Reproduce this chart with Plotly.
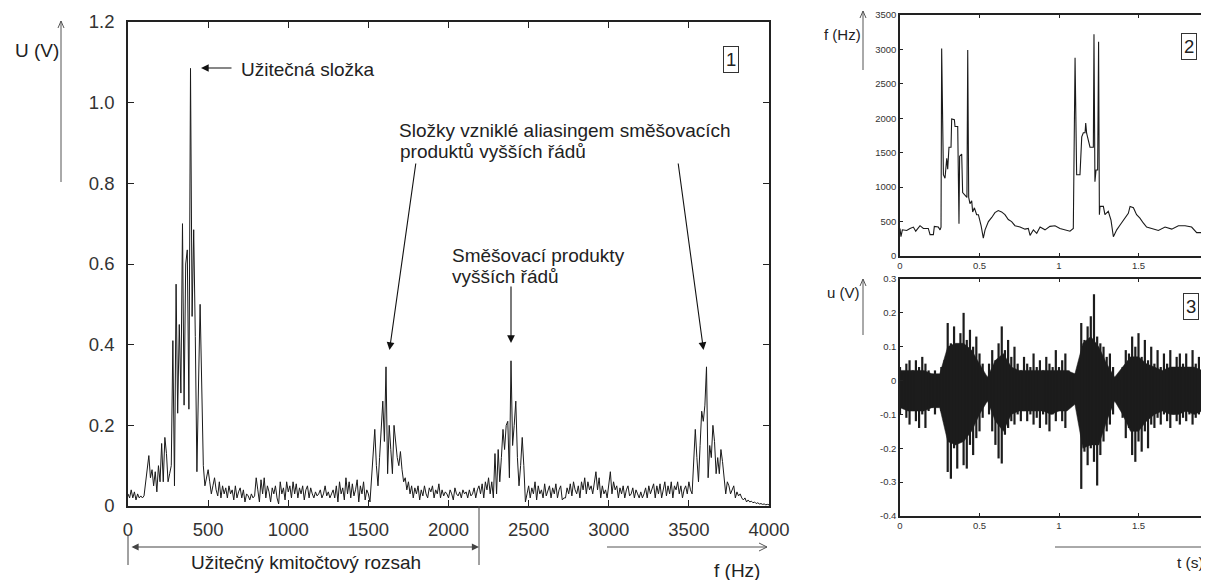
import plotly.graph_objects as go

# The page body adds an 8 px margin, so the figure is drawn 8 px in from the
# window's top-left corner; screen pixel positions are mapped accordingly.
OFF = 8
W, H = 1209 - OFF, 580 - OFF
def px(x): return (x - OFF) / W
def py(y): return 1 - (y - OFF) / H

# ---------------- data ----------------
# Panel 1: amplitude spectrum, 10 Hz grid 0..4000 Hz
freq_step = 10
spectrum_u = [
    0.03, 0.02, 0.04, 0.02, 0.035, 0.015, 0.03, 0.02, 0.025, 0.02,          # 0
    0.025, 0.06, 0.08, 0.125, 0.07, 0.09, 0.05, 0.085, 0.035, 0.1,          # 100
    0.06, 0.155, 0.06, 0.17, 0.13, 0.06, 0.08, 0.1, 0.41, 0.05,             # 200
    0.55, 0.23, 0.45, 0.28, 0.70, 0.25, 0.60, 0.635, 0.24, 1.085,           # 300
    0.47, 0.685, 0.42, 0.085, 0.3, 0.50, 0.3, 0.1, 0.05, 0.07,              # 400
    0.09, 0.06, 0.03, 0.05, 0.07, 0.04, 0.025, 0.06, 0.02, 0.05,            # 500
    0.03, 0.045, 0.02, 0.05, 0.03, 0.04, 0.015, 0.05, 0.02, 0.035,          # 600
    0.045, 0.02, 0.04, 0.01, 0.03, 0.025, 0.015, 0.03, 0.02, 0.025,         # 700
    0.07, 0.04, 0.01, 0.065, 0.03, 0.07, 0.02, 0.05, 0.035, 0.01,           # 800
    0.045, 0.03, 0.05, 0.02, 0.005, 0.06, 0.03, 0.045, 0.015, 0.06,         # 900
    0.035, 0.05, 0.02, 0.06, 0.03, 0.055, 0.02, 0.045, 0.03, 0.05,          # 1000
    0.015, 0.04, 0.05, 0.02, 0.045, 0.03, 0.02, 0.035, 0.025, 0.03,         # 1100
    0.04, 0.02, 0.03, 0.05, 0.025, 0.035, 0.02, 0.03, 0.04, 0.02,           # 1200
    0.05, 0.01, 0.06, 0.03, 0.045, 0.015, 0.07, 0.03, 0.06, 0.02,           # 1300
    0.055, 0.025, 0.04, 0.065, 0.01, 0.05, 0.03, 0.06, 0.015, 0.04,         # 1400
    0.03, 0.01, 0.07, 0.13, 0.19, 0.1, 0.05, 0.12, 0.2, 0.26,               # 1500
    0.16, 0.345, 0.08, 0.2, 0.14, 0.08, 0.2, 0.15, 0.12, 0.1,               # 1600
    0.135, 0.09, 0.06, 0.07, 0.04, 0.06, 0.03, 0.05, 0.02, 0.045,           # 1700
    0.03, 0.05, 0.015, 0.04, 0.025, 0.05, 0.03, 0.02, 0.045, 0.035,         # 1800
    0.05, 0.02, 0.04, 0.03, 0.055, 0.02, 0.04, 0.025, 0.035, 0.03,          # 1900
    0.02, 0.04, 0.03, 0.015, 0.045, 0.03, 0.025, 0.035, 0.02, 0.04,         # 2000
    0.03, 0.035, 0.02, 0.04, 0.025, 0.03, 0.045, 0.02, 0.04, 0.05,          # 2100
    0.03, 0.055, 0.02, 0.06, 0.04, 0.07, 0.03, 0.06, 0.02, 0.13,            # 2200
    0.03, 0.14, 0.06, 0.12, 0.19, 0.14, 0.2, 0.21, 0.07, 0.36,              # 2300
    0.15, 0.2, 0.26, 0.12, 0.05, 0.1, 0.17, 0.1, 0.01, 0.03,                # 2400
    0.05, 0.02, 0.045, 0.03, 0.06, 0.015, 0.05, 0.03, 0.04, 0.02,           # 2500
    0.055, 0.025, 0.04, 0.05, 0.02, 0.045, 0.03, 0.055, 0.02, 0.04,         # 2600
    0.05, 0.015, 0.02, 0.02, 0.045, 0.03, 0.055, 0.025, 0.06, 0.04,         # 2700
    0.03, 0.05, 0.02, 0.06, 0.04, 0.07, 0.03, 0.06, 0.04, 0.05,             # 2800
    0.03, 0.065, 0.085, 0.04, 0.07, 0.02, 0.05, 0.03, 0.04, 0.02,           # 2900
    0.05, 0.085, 0.03, 0.06, 0.04, 0.05, 0.02, 0.045, 0.03, 0.05,           # 3000
    0.02, 0.04, 0.05, 0.025, 0.03, 0.045, 0.02, 0.04, 0.03, 0.02,           # 3100
    0.035, 0.02, 0.03, 0.045, 0.02, 0.05, 0.03, 0.04, 0.055, 0.02,          # 3200
    0.05, 0.03, 0.055, 0.02, 0.045, 0.06, 0.025, 0.05, 0.03, 0.06,          # 3300
    0.02, 0.05, 0.04, 0.06, 0.03, 0.05, 0.02, 0.04, 0.05, 0.03,             # 3400
    0.06, 0.04, 0.03, 0.115, 0.19, 0.12, 0.06, 0.15, 0.235, 0.21,           # 3500
    0.25, 0.345, 0.07, 0.15, 0.12, 0.2, 0.16, 0.08, 0.12, 0.08,             # 3600
    0.14, 0.11, 0.07, 0.03, 0.06, 0.05, 0.03, 0.04, 0.05, 0.02,             # 3700
    0.035, 0.025, 0.03, 0.02, 0.015, 0.02, 0.01, 0.015, 0.01, 0.012,        # 3800
    0.008, 0.01, 0.006, 0.008, 0.005, 0.006, 0.004, 0.005, 0.003, 0.004,    # 3900
    0.003,                                                                  # 4000
]
spectrum_f = [i * freq_step for i in range(len(spectrum_u))]

# Panel 2: instantaneous frequency vs time
track_t = [0.000, 0.006, 0.015, 0.042, 0.063, 0.084, 0.099, 0.126, 0.147, 0.178,
           0.189, 0.210, 0.216, 0.241, 0.252, 0.258, 0.262, 0.273, 0.283, 0.294,
           0.300, 0.308, 0.321, 0.325, 0.342, 0.346, 0.363, 0.367, 0.371, 0.375,
           0.388, 0.394, 0.413, 0.421, 0.426, 0.432, 0.440, 0.451, 0.457, 0.468,
           0.482, 0.493, 0.510, 0.524, 0.535, 0.556, 0.577, 0.597, 0.618, 0.639,
           0.660, 0.681, 0.702, 0.723, 0.755, 0.786, 0.807, 0.818, 0.839, 0.860,
           0.881, 0.912, 0.943, 0.975, 1.006, 1.038, 1.069, 1.090, 1.101, 1.111,
           1.132, 1.143, 1.153, 1.164, 1.168, 1.174, 1.195, 1.216, 1.220, 1.226,
           1.233, 1.243, 1.249, 1.254, 1.258, 1.279, 1.289, 1.310, 1.327, 1.342,
           1.363, 1.384, 1.405, 1.415, 1.436, 1.447, 1.468, 1.488, 1.509, 1.530,
           1.551, 1.583, 1.625, 1.667, 1.709, 1.751, 1.793, 1.834, 1.866, 1.898,
           1.919, 1.940]
track_f = [400, 280, 380, 370, 400, 420, 360, 440, 400, 400,
           310, 310, 430, 420, 380, 420, 3015, 1180, 1130, 1420,
           1260, 1580, 1580, 1990, 1980, 1880, 1880, 1220, 470, 1450,
           1480, 920, 870, 850, 2990, 850, 760, 800, 640, 700,
           600, 600, 440, 260, 380, 500, 560, 630, 660, 640,
           600, 530, 500, 440, 420, 390, 400, 300, 380, 330,
           420, 380, 430, 440, 400, 380, 360, 400, 2880, 1180,
           1180, 1730, 1790, 1790, 1930, 1780, 1580, 1580, 3220, 1080,
           1250, 1250, 3110, 600, 720, 720, 600, 650, 520, 280,
           380, 450, 520, 560, 620, 720, 700, 600, 550, 480,
           420, 400, 370, 420, 390, 440, 440, 420, 340, 340,
           410, 350]

# Panel 3: waveform — extreme values every 0.02 s (spikes) ...
wave_step = 0.02
wave_upper = [0.04, 0.02, 0.05, 0.06, 0.03, 0.06, 0.04, 0.07, 0.05, 0.03,
              0.02, 0.03, 0.01, 0.04, 0.06, 0.17, 0.11, 0.16, 0.10, 0.14,
              0.20, 0.12, 0.15, 0.10, 0.13, 0.08, 0.05, 0.00, 0.05, 0.09,
              0.06, 0.11, 0.16, 0.09, 0.12, 0.07, 0.10, 0.05, 0.03, 0.07,
              0.05, 0.04, 0.08, 0.04, 0.06, 0.03, 0.07, 0.05, 0.04, 0.09,
              0.04, 0.06, 0.08, 0.03, 0.01, 0.02, 0.03, 0.17, 0.12, 0.16,
              0.19, 0.255, 0.13, 0.11, 0.10, 0.07, 0.08, 0.04, 0.01, 0.00,
              0.04, 0.09, 0.08, 0.13, 0.10, 0.14, 0.07, 0.12, 0.06, 0.10,
              0.05, 0.09, 0.04, 0.08, 0.05, 0.09, 0.04, 0.07, 0.08, 0.05,
              0.08, 0.04, 0.09, 0.05, 0.07, 0.08, 0.05, 0.04]
wave_lower = [-0.10, -0.08, -0.11, -0.13, -0.09, -0.12, -0.14, -0.10, -0.14, -0.09,
              -0.08, -0.10, -0.07, -0.09, -0.12, -0.27, -0.29, -0.20, -0.26, -0.18,
              -0.25, -0.26, -0.19, -0.22, -0.17, -0.15, -0.11, -0.06, -0.10, -0.15,
              -0.19, -0.23, -0.245, -0.16, -0.14, -0.12, -0.13, -0.10, -0.12, -0.09,
              -0.12, -0.10, -0.13, -0.11, -0.14, -0.10, -0.13, -0.15, -0.10, -0.12,
              -0.09, -0.12, -0.14, -0.08, -0.07, -0.06, -0.08, -0.32, -0.21, -0.25,
              -0.20, -0.24, -0.31, -0.22, -0.18, -0.15, -0.13, -0.10, -0.06, -0.07,
              -0.11, -0.17, -0.14, -0.22, -0.24, -0.18, -0.21, -0.15, -0.20, -0.13,
              -0.14, -0.11, -0.13, -0.10, -0.12, -0.14, -0.10, -0.12, -0.13, -0.11,
              -0.12, -0.10, -0.13, -0.11, -0.10, -0.12, -0.11, -0.09]
# ... and the solid dense core every 0.05 s
core_step = 0.05
core_upper = [0.03, 0.03, 0.03, 0.03, 0.02, 0.02, 0.10, 0.11, 0.11, 0.09,
              0.05, 0.01, 0.06, 0.08, 0.04, 0.03, 0.03, 0.03, 0.03, 0.03,
              0.03, 0.03, 0.02, 0.11, 0.13, 0.10, 0.05, 0.01, 0.04, 0.07,
              0.07, 0.05, 0.04, 0.03, 0.04, 0.04, 0.04, 0.04, 0.03, 0.03]
core_lower = [-0.08, -0.09, -0.09, -0.09, -0.08, -0.08, -0.18, -0.19, -0.18, -0.15,
              -0.10, -0.06, -0.12, -0.15, -0.10, -0.09, -0.09, -0.09, -0.09, -0.10,
              -0.09, -0.09, -0.07, -0.20, -0.19, -0.19, -0.12, -0.06, -0.10, -0.15,
              -0.15, -0.12, -0.10, -0.09, -0.10, -0.10, -0.09, -0.10, -0.09, -0.09]

# tick labels
p1_xticks = [0, 500, 1000, 1500, 2000, 2500, 3000, 3500, 4000]
p1_yticks = [0, 0.2, 0.4, 0.6, 0.8, 1.0, 1.2]
p1_ylabels = ["0", "0.2", "0.4", "0.6", "0.8", "1.0", "1.2"]
p2_yticks = [0, 500, 1000, 1500, 2000, 2500, 3000, 3500]
p3_yticks = [-0.4, -0.3, -0.2, -0.1, 0, 0.1, 0.2, 0.3]
p3_ylabels = ["-0.4", "-0.3", "-0.2", "-0.1", "0", "0.1", "0.2", "0.3"]
t_ticks = [0, 0.5, 1, 1.5]
t_labels = ["0", "0.5", "1", "1.5"]

# waveform geometry: vertical spikes (gapped segments) + filled core polygon
spike_t, spike_u = [], []
for i, (u, l) in enumerate(zip(wave_upper, wave_lower)):
    spike_t += [i * wave_step, i * wave_step, None]
    spike_u += [l, u, None]
core_t = [i * core_step for i in range(len(core_upper))]
poly_t = core_t + core_t[::-1]
poly_u = core_upper + core_lower[::-1]

# ---------------- figure ----------------
FONT = "Liberation Sans, Arial, Helvetica, sans-serif"
TXT = "#222222"
AX = "#222222"
INK = "#1c1c1c"

fig = go.Figure()
fig.add_trace(go.Scatter(x=spectrum_f, y=spectrum_u, mode="lines",
                         line=dict(color="#1a1a1a", width=1), xaxis="x", yaxis="y",
                         showlegend=False, hoverinfo="skip"))
fig.add_trace(go.Scatter(x=track_t, y=track_f, mode="lines",
                         line=dict(color="#1a1a1a", width=1.1), xaxis="x2", yaxis="y2",
                         showlegend=False, hoverinfo="skip"))
fig.add_trace(go.Scatter(x=poly_t, y=poly_u, mode="lines", fill="toself",
                         fillcolor=INK, line=dict(color=INK, width=0.5),
                         xaxis="x3", yaxis="y3", showlegend=False, hoverinfo="skip"))
fig.add_trace(go.Scatter(x=spike_t, y=spike_u, mode="lines", connectgaps=False,
                         line=dict(color=INK, width=2.2),
                         xaxis="x3", yaxis="y3", showlegend=False, hoverinfo="skip"))

def axis_common(size, tl):
    return dict(showline=True, linecolor=AX, linewidth=1.5, mirror="ticks",
                ticks="inside", ticklen=tl, tickwidth=1, tickcolor=AX,
                showgrid=False, zeroline=False, fixedrange=True, automargin=False,
                tickfont=dict(family=FONT, size=size, color="#333333"))

small_r = (1208 - 900) / 159.0

fig.update_layout(
    width=W, height=H, autosize=False,
    margin=dict(l=0, r=0, t=0, b=0, pad=0, autoexpand=False),
    paper_bgcolor="white", plot_bgcolor="white",
    showlegend=False,
    xaxis=dict(domain=[px(128), px(769)], range=[0, 4000], anchor="y",
               tickvals=p1_xticks, ticklabelstandoff=6, **axis_common(18.5, 6)),
    yaxis=dict(domain=[py(506), py(22)], range=[0, 1.2], anchor="x",
               tickvals=p1_yticks, ticktext=p1_ylabels, ticklabelstandoff=8,
               **axis_common(18.5, 6)),
    xaxis2=dict(domain=[px(900), px(1208)], range=[0, small_r], anchor="y2",
                tickvals=t_ticks, ticktext=t_labels, ticklabelstandoff=0,
                **axis_common(9.5, 3)),
    yaxis2=dict(domain=[py(256), py(15)], range=[0, 3500], anchor="x2",
                tickvals=p2_yticks, ticklabelstandoff=0, **axis_common(9.5, 3)),
    xaxis3=dict(domain=[px(900), px(1208)], range=[0, small_r], anchor="y3",
                tickvals=t_ticks, ticktext=t_labels, ticklabelstandoff=0,
                **axis_common(9.5, 3)),
    yaxis3=dict(domain=[py(516), py(279)], range=[-0.4, 0.3], anchor="x3",
                tickvals=p3_yticks, ticktext=p3_ylabels, ticklabelstandoff=0,
                **axis_common(9.5, 3)),
)

ann = []
def text(x, y, s, size=19, anchor="left", border=False):
    d = dict(x=px(x), y=py(y), xref="paper", yref="paper", text=s, showarrow=False,
             xanchor=anchor, yanchor="middle",
             font=dict(family=FONT, size=size, color=TXT))
    if border:
        d.update(bordercolor="#333333", borderwidth=1, borderpad=2, bgcolor="white")
    ann.append(d)

def arrow(tx, ty, hx, hy, color="#111111", head=2, size=1.4, width=1.1, side="end"):
    ann.append(dict(x=px(hx), y=py(hy), xref="paper", yref="paper",
                    ax=tx - hx, ay=ty - hy, axref="pixel", ayref="pixel",
                    text="", showarrow=True, arrowhead=head, arrowsize=size,
                    arrowwidth=width, arrowcolor=color, standoff=0, startstandoff=0,
                    arrowside=side, startarrowhead=head, startarrowsize=size))

# main panel texts
text(13, 50, "U (V)")
text(239, 69, "Užitečná složka")
text(397, 130, "Složky vzniklé aliasingem směšovacích")
text(398, 151, "produktů vyšších řádů")
text(450, 255, "Směšovací produkty")
text(450, 276, "vyšších řádů")
text(306, 562, "Užitečný kmitočtový rozsah", anchor="center")
text(712, 570, "f (Hz)")
text(731, 59, "1", size=18.5, anchor="center", border=True)
# small panels texts
text(822, 35, "f (Hz)", size=15)
text(825, 292, "u (V)", size=15)
text(1175, 562, "t (s)", size=15.5)
text(1189, 46, "2", size=18.5, anchor="center", border=True)
text(1191, 306, "3", size=18.5, anchor="center", border=True)

# data arrows
arrow(233, 68, 201, 68)
arrow(416, 162, 389.5, 350)
arrow(678, 162, 703.5, 350)
arrow(511, 285, 511, 343)
# useful range double arrow
arrow(130, 547, 479, 547, color="#444444", head=2, size=1.3, width=1.1, side="end+start")
fig.update_layout(annotations=ann)

# open-headed axis arrows and guide lines (shapes in paper coords)
def pline(x0, y0, x1, y1, color="#555555", w=1):
    fig.add_shape(type="line", xref="paper", yref="paper",
                  x0=px(x0), y0=py(y0), x1=px(x1), y1=py(y1),
                  line=dict(color=color, width=w))

def up_arrow(x, y0, y1, color="#555555"):
    pline(x, y0, x, y1, color)
    pline(x - 3, y1 + 7, x, y1, color)
    pline(x + 3, y1 + 7, x, y1, color)

def right_arrow(x0, x1, y, color="#555555"):
    pline(x0, y, x1, y, color)
    pline(x1 - 8, y - 4, x1, y, color)
    pline(x1 - 8, y + 4, x1, y, color)

up_arrow(61, 182, 21)
right_arrow(607, 767, 547)
pline(128, 535, 128, 565, "#444444")
pline(479, 506, 479, 565, "#444444")
up_arrow(863, 70, 11)
up_arrow(863, 335, 279)
pline(1055, 547, 1209, 547, "#555555")

fig.write_html("out.html")
